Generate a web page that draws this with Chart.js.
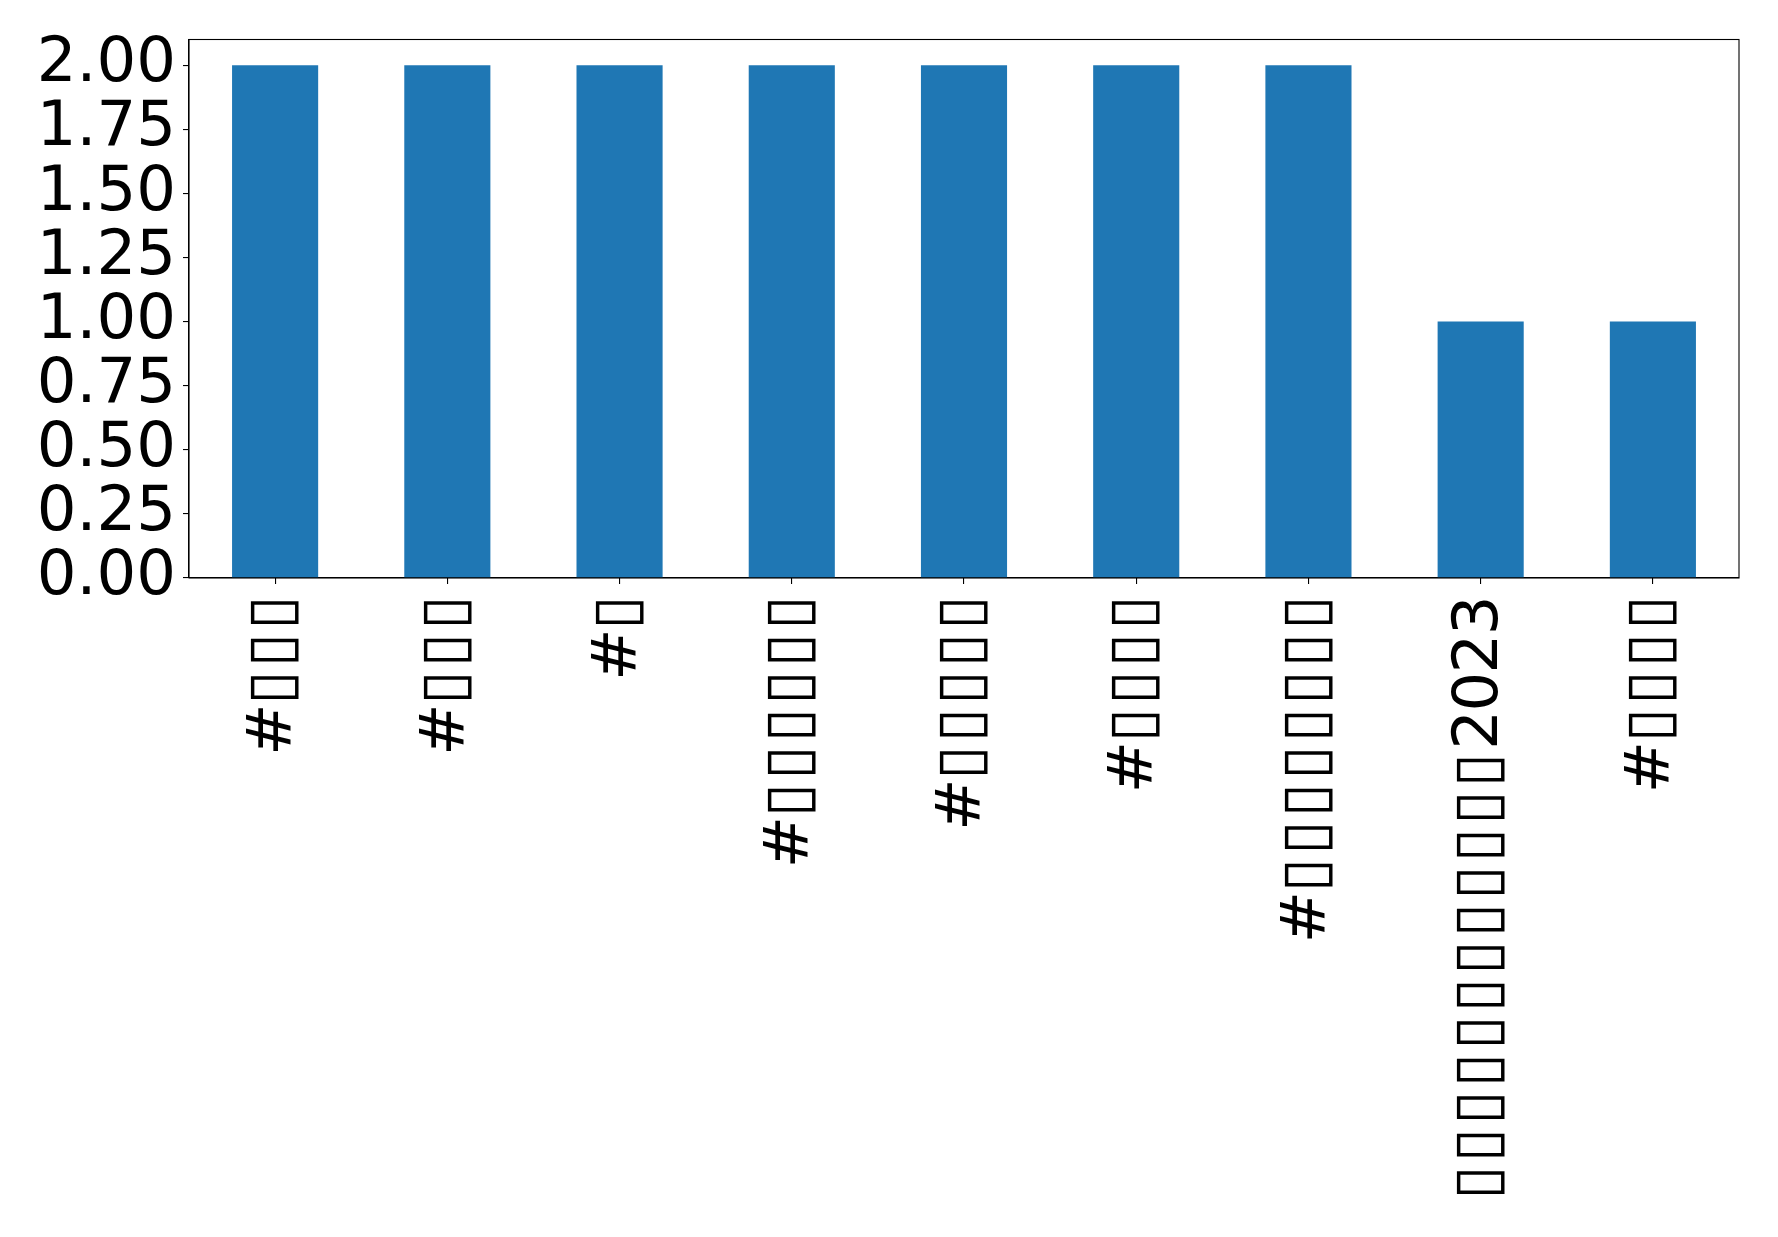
<!DOCTYPE html>
<html>
<head>
<meta charset="utf-8">
<script src="https://cdn.jsdelivr.net/npm/chart.js@4/dist/chart.umd.min.js"></script>
<style>
  html, body { margin: 0; padding: 0; background: #ffffff; }
  #wrap { width: 1778px; height: 1237px; position: relative; }
</style>
</head>
<body>
<div id="wrap"><canvas id="c" width="1778" height="1237"></canvas></div>
<script>
// Categories (original glyphs rendered as missing-glyph boxes in the reference)
const categories = [
  "#▯▯▯",
  "#▯▯▯",
  "#▯",
  "#▯▯▯▯▯▯",
  "#▯▯▯▯▯",
  "#▯▯▯▯",
  "#▯▯▯▯▯▯▯▯",
  "▯▯▯▯▯▯▯▯▯▯▯▯2023",
  "#▯▯▯▯"
];
const counts = [2, 2, 2, 2, 2, 2, 2, 1, 1];
const yTicks = [0, 0.25, 0.5, 0.75, 1.0, 1.25, 1.5, 1.75, 2.0];
const yMin = 0;
const yMax = 2.1;

const FONT = "'DejaVu Sans', sans-serif";
const FONT_SIZE = 62.5;

// box glyph pitch in the reference is about 0.6em; hair spaces between boxes plus a small
// letter-spacing correction (measured at runtime) bring the stand-in glyph to that pitch
const HAIR = "\u200A";
const spaced = (s) => s.replace(/▯(?=.)/g, "▯" + HAIR);
const mctx = document.createElement('canvas').getContext('2d');
mctx.font = FONT_SIZE + "px " + FONT;
const pairW = mctx.measureText("▯" + HAIR).width;
const LETTER_SPACING = (0.6 * FONT_SIZE - pairW) / 2;

class SpacedCategory extends Chart.CategoryScale {
  drawLabels(chartArea) {
    const ctx = this.ctx;
    const prev = ctx.letterSpacing;
    ctx.letterSpacing = LETTER_SPACING.toFixed(2) + "px";
    super.drawLabels(chartArea);
    ctx.letterSpacing = prev;
  }
}
SpacedCategory.id = 'spacedCategory';
SpacedCategory.defaults = Chart.CategoryScale.defaults;
Chart.register(SpacedCategory);

const frame = {
  id: 'frame',
  afterDraw(chart) {
    const a = chart.chartArea;
    const ctx = chart.ctx;
    ctx.save();
    ctx.strokeStyle = '#000000';
    ctx.lineWidth = 1.1;
    ctx.strokeRect(a.left, a.top, a.right - a.left, a.bottom - a.top);
    ctx.restore();
  }
};

new Chart(document.getElementById('c'), {
  type: 'bar',
  data: {
    labels: categories,
    datasets: [{
      data: counts,
      backgroundColor: '#1f77b4',
      borderWidth: 0,
      categoryPercentage: 1.0,
      barPercentage: 0.5
    }]
  },
  options: {
    responsive: false,
    animation: false,
    devicePixelRatio: 1,
    layout: { padding: { top: 39.5, right: 39, left: 0, bottom: 0 } },
    plugins: { legend: { display: false }, tooltip: { enabled: false } },
    scales: {
      x: {
        type: 'spacedCategory',
        offset: true,
        grid: { display: true, offset: false, drawOnChartArea: false, tickLength: 6, color: '#000000', lineWidth: 1.1 },
        border: { display: true, color: '#000000', width: 1.1 },
        ticks: {
          autoSkip: false,
          maxRotation: 90,
          minRotation: 90,
          padding: 13,
          color: '#000000',
          font: { family: FONT, size: FONT_SIZE },
          callback: function (v) { return spaced(this.getLabelForValue(v)); }
        },
        afterFit(scale) { scale.height = 659; }
      },
      y: {
        min: yMin,
        max: yMax,
        afterBuildTicks(scale) { scale.ticks = yTicks.map(v => ({ value: v })); },
        grid: { display: true, drawOnChartArea: false, tickLength: 6, color: '#000000', lineWidth: 1.1 },
        border: { display: true, color: '#000000', width: 1.1 },
        ticks: {
          autoSkip: false,
          padding: 7,
          color: '#000000',
          font: { family: FONT, size: FONT_SIZE, lineHeight: 1.0 },
          callback: (v) => Number(v).toFixed(2)
        },
        afterFit(scale) { scale.width = 189; }
      }
    }
  },
  plugins: [frame]
});
</script>
</body>
</html>
